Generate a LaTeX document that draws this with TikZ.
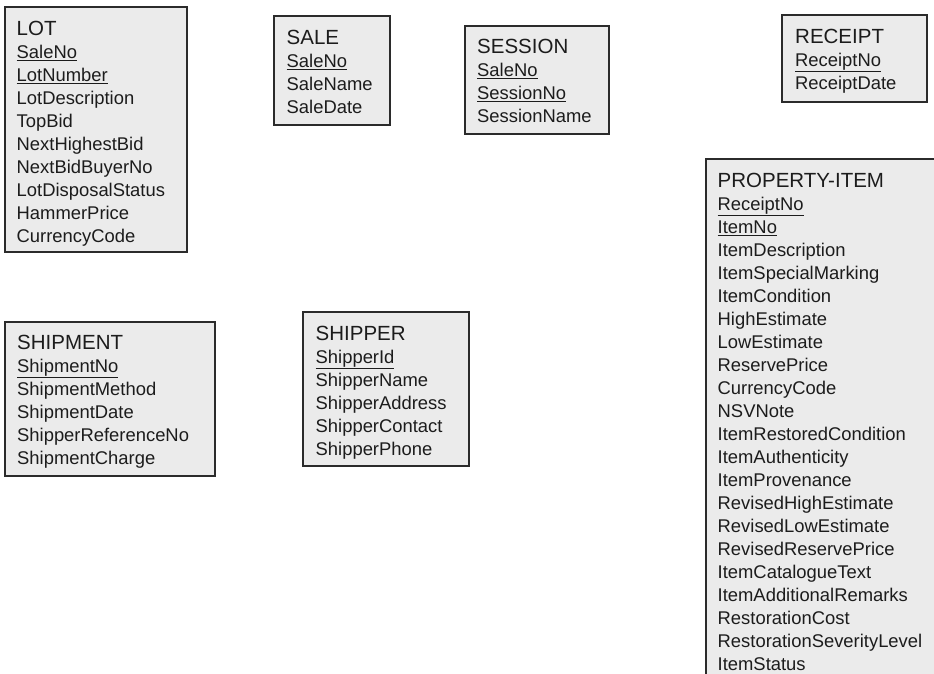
\documentclass[tikz,border=0pt]{standalone}
\usepackage{fontspec}
\setmainfont{Liberation Sans}
\definecolor{boxfill}{HTML}{EBEBEB}
\definecolor{boxline}{HTML}{2B2B2B}
\definecolor{ink}{HTML}{1C1C1C}
\newcommand{\enttitle}[1]{\rule{0pt}{16pt}{\fontsize{20.5pt}{23pt}\selectfont #1}}
\newcommand{\pk}[1]{\underline{#1}}
\begin{document}
\begin{tikzpicture}[x=1pt,y=-1pt,
  entity/.style={draw=boxline, fill=boxfill, line width=1.8pt, inner sep=0pt,
    outer sep=0pt, anchor=north west},
  fields/.style={anchor=north west, inner sep=0pt, align=left, text=ink,
    font=\fontsize{18.4pt}{23pt}\selectfont},
]
\useasboundingbox (0,0) rectangle (934,674);
\clip (0,0) rectangle (934,674);

% entity boxes
\node[entity, minimum width=182pt, minimum height=245pt] (lot) at (5,7) {};
\node[entity, minimum width=116pt, minimum height=109pt] (sale) at (274,16) {};
\node[entity, minimum width=144pt, minimum height=108pt] (session) at (465,26) {};
\node[entity, minimum width=145pt, minimum height=87pt] (receipt) at (782,15) {};
\node[entity, minimum width=240pt, minimum height=540pt] (item) at (706,159) {};
\node[entity, minimum width=210pt, minimum height=154pt] (shipment) at (5,322) {};
\node[entity, minimum width=166pt, minimum height=154pt] (shipper) at (303,312) {};

% entity names and attributes
\node[fields] (lot-t) at ([xshift=11.5pt, yshift=-12pt]lot.north west)
  {\enttitle{LOT}\\ \pk{SaleNo}\\ \pk{LotNumber}\\ LotDescription\\ TopBid\\
   NextHighestBid\\ NextBidBuyerNo\\ LotDisposalStatus\\ HammerPrice\\ CurrencyCode};
\node[fields] (sale-t) at ([xshift=12.5pt, yshift=-12pt]sale.north west)
  {\enttitle{SALE}\\ \pk{SaleNo}\\ SaleName\\ SaleDate};
\node[fields] (session-t) at ([xshift=12pt, yshift=-11.5pt]session.north west)
  {\enttitle{SESSION}\\ \pk{SaleNo}\\ \pk{SessionNo}\\ SessionName};
\node[fields] (receipt-t) at ([xshift=13pt, yshift=-12pt]receipt.north west)
  {\enttitle{RECEIPT}\\ \pk{ReceiptNo}\\ ReceiptDate};
\node[fields] (item-t) at ([xshift=11.5pt, yshift=-12pt]item.north west)
  {\enttitle{PROPERTY-ITEM}\\ \pk{ReceiptNo}\\ \pk{ItemNo}\\ ItemDescription\\
   ItemSpecialMarking\\ ItemCondition\\ HighEstimate\\ LowEstimate\\ ReservePrice\\
   CurrencyCode\\ NSVNote\\ ItemRestoredCondition\\ ItemAuthenticity\\
   ItemProvenance\\ RevisedHighEstimate\\ RevisedLowEstimate\\ RevisedReservePrice\\
   ItemCatalogueText\\ ItemAdditionalRemarks\\ RestorationCost\\
   RestorationSeverityLevel\\ ItemStatus};
\node[fields] (shipment-t) at ([xshift=12pt, yshift=-11pt]shipment.north west)
  {\enttitle{SHIPMENT}\\ \pk{ShipmentNo}\\ ShipmentMethod\\ ShipmentDate\\
   ShipperReferenceNo\\ ShipmentCharge};
\node[fields] (shipper-t) at ([xshift=12.5pt, yshift=-12pt]shipper.north west)
  {\enttitle{SHIPPER}\\ \pk{ShipperId}\\ ShipperName\\ ShipperAddress\\
   ShipperContact\\ ShipperPhone};
\end{tikzpicture}
\end{document}
